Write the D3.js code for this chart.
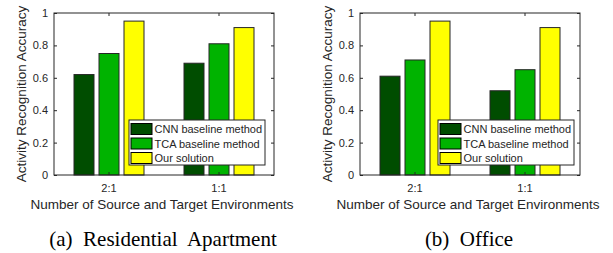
<!DOCTYPE html>
<html>
<head>
<meta charset="utf-8">
<script src="https://d3js.org/d3.v7.min.js"></script>
<style>
  body { margin: 0; background: #fff; }
  svg text { font-family: "Liberation Sans", Arial, sans-serif; fill: #262626; }
  .caption { font-family: "Liberation Serif", "Times New Roman", serif; fill: #000; white-space: pre; }
</style>
</head>
<body>
<script>
// data
var groups = ["2:1", "1:1"];
var series = ["CNN baseline method", "TCA baseline method", "Our solution"];
var colors = ["#004d00", "#00b300", "#ffff00"];
var apartment = [[0.62, 0.75, 0.95], [0.69, 0.81, 0.91]];
var office = [[0.61, 0.71, 0.95], [0.52, 0.65, 0.91]];
var yTicks = [0, 0.2, 0.4, 0.6, 0.8, 1];
var captions = ["(a)  Residential  Apartment", "(b)  Office"];

var width = 613, height = 253;

var svg = d3.select("body")
  .append("svg")
  .attr("width", width)
  .attr("height", height);

var w = 220, h = 162;

function panel(ox, values, caption, legendRight) {
  var g = svg.append("g").attr("transform", "translate(" + ox + ",13)");

  var x0 = d3.scaleBand().domain(groups).range([0, w]);
  var x1 = d3.scaleBand().domain(series).range([0, x0.bandwidth()])
    .paddingInner(0.2).paddingOuter(0.8);
  var y = d3.scaleLinear().domain([0, 1]).range([h, 0]);

  // bars
  var grp = g.selectAll(".grp")
    .data(values)
    .enter()
    .append("g")
    .attr("transform", function(d, i) { return "translate(" + x0(groups[i]) + ",0)"; });

  grp.selectAll("rect")
    .data(function(d) { return d; })
    .enter()
    .append("rect")
    .attr("x", function(d, i) { return x1(series[i]); })
    .attr("y", function(d) { return y(d); })
    .attr("width", x1.bandwidth())
    .attr("height", function(d) { return h - y(d); })
    .attr("fill", function(d, i) { return colors[i]; })
    .attr("stroke", "#262626")
    .attr("stroke-width", 1);

  // box + axes
  g.append("rect")
    .attr("width", w).attr("height", h)
    .attr("fill", "none").attr("stroke", "#262626").attr("stroke-width", 1);

  var yAxis = g.append("g")
    .call(d3.axisLeft(y).tickValues(yTicks).tickSizeInner(-3).tickSizeOuter(0).tickPadding(6)
      .tickFormat(d3.format("~g")));
  var yAxisR = g.append("g").attr("transform", "translate(" + w + ",0)")
    .call(d3.axisRight(y).tickValues(yTicks).tickSizeInner(-3).tickSizeOuter(0).tickFormat(""));
  var xAxis = g.append("g").attr("transform", "translate(0," + h + ")")
    .call(d3.axisBottom(x0).tickSizeInner(-3).tickSizeOuter(0).tickPadding(9));
  var xAxisT = g.append("g")
    .call(d3.axisTop(x0).tickSizeInner(-3).tickSizeOuter(0).tickFormat(""));

  [yAxis, yAxisR, xAxis, xAxisT].forEach(function(a) {
    a.select(".domain").remove();
    a.selectAll("line").attr("stroke", "#262626");
    a.selectAll("text").attr("font-size", 11).attr("fill", "#262626")
      .style("font-family", "Liberation Sans, Arial, sans-serif");
  });

  // labels
  g.append("text")
    .attr("transform", "translate(-28," + (h / 2) + ") rotate(-90)")
    .attr("text-anchor", "middle")
    .attr("font-size", 13.5)
    .text("Activity Recognition Accuracy");

  g.append("text")
    .attr("x", w / 2 - 2)
    .attr("y", 196)
    .attr("text-anchor", "middle")
    .attr("font-size", 13.5)
    .text("Number of Source and Target Environments");

  g.append("text")
    .attr("class", "caption")
    .attr("x", w / 2 - 1)
    .attr("y", 233)
    .attr("text-anchor", "middle")
    .attr("font-size", 21)
    .text(caption);

  // legend
  var lw = 136, lh = 45;
  var lg = g.append("g").attr("transform", "translate(" + (w - legendRight - lw) + "," + (h - 10 - lh) + ")");
  lg.append("rect")
    .attr("width", lw).attr("height", lh)
    .attr("fill", "#fff").attr("stroke", "#262626").attr("stroke-width", 1);
  var items = lg.selectAll(".item")
    .data(series)
    .enter()
    .append("g")
    .attr("transform", function(d, i) { return "translate(2," + (3.5 + i * 14.5) + ")"; });
  items.append("rect")
    .attr("width", 21).attr("height", 11)
    .attr("fill", function(d, i) { return colors[i]; })
    .attr("stroke", "#000").attr("stroke-width", 1);
  items.append("text")
    .attr("x", 23.5).attr("y", 9.5)
    .attr("font-size", 11)
    .attr("fill", "#000")
    .text(function(d) { return d; });
}

panel(54, apartment, captions[0], 9);
panel(360, office, captions[1], 6);
</script>
</body>
</html>
